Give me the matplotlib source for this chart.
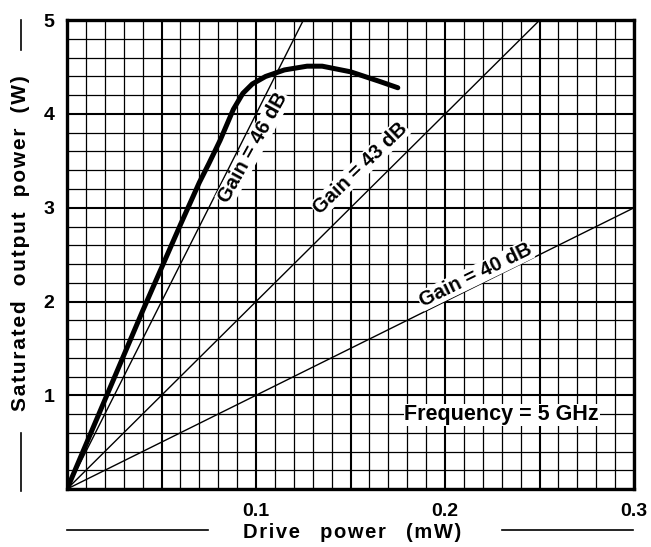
import numpy as np
import matplotlib
matplotlib.use("Agg")
import matplotlib.pyplot as plt
from matplotlib.lines import Line2D
from matplotlib.ticker import FuncFormatter

plt.rcParams['font.family'] = ['Liberation Sans', 'DejaVu Sans']
plt.rcParams['font.weight'] = 'bold'

# saturated output curve
drive = [0, 0.02, 0.04, 0.06, 0.07, 0.075, 0.081, 0.088, 0.093, 0.098,
         0.105, 0.115, 0.127, 0.135, 0.15, 0.165, 0.175]
sat_out = [0, 0.95, 1.9, 2.82, 3.27, 3.47, 3.72, 4.05, 4.22, 4.32,
           4.40, 4.47, 4.51, 4.51, 4.45, 4.35, 4.28]

# constant gain lines: end points (mW, W)
gains = ["40", "43", "46"]
gain_end_x = [0.3, 0.25, 0.125]
gain_end_y = [3.0, 5.0, 5.0]
# label positions and angles
gain_lab_x = [0.216, 0.155, 0.0985]
gain_lab_y = [2.28, 3.42, 3.64]
gain_lab_rot = [26, 44, 61]

fig = plt.figure(figsize=(6.51, 5.47), dpi=100)
ax = fig.add_axes([0.103, 0.106, 0.871, 0.857])

ax.set_xlim(0, 0.3)
ax.set_ylim(0, 5)
ax.set_xticks(np.arange(0, 0.3001, 0.05))
ax.set_xticks(np.arange(0, 0.3001, 0.01), minor=True)
ax.set_yticks(np.arange(0, 5.01, 1))
ax.set_yticks(np.arange(0, 5.01, 0.2), minor=True)
ax.xaxis.set_major_formatter(FuncFormatter(
    lambda v, p: f"{v:.1f}" if v > 0.01 and abs(v * 10 - round(v * 10)) < 1e-6 else ""))
ax.yaxis.set_major_formatter(FuncFormatter(lambda v, p: f"{v:.0f}" if v > 0 else ""))
ax.tick_params(which='both', length=0)
ax.tick_params(axis='x', pad=10, labelsize=14)
ax.tick_params(axis='y', pad=9, labelsize=14)

ax.set_axisbelow(True)
ax.grid(which='minor', color='k', lw=0.9)
ax.grid(which='major', color='k', lw=1.5)
for s in ax.spines.values():
    s.set_linewidth(2.4)

for g, ex, ey, lx, ly, rot in zip(gains, gain_end_x, gain_end_y,
                                  gain_lab_x, gain_lab_y, gain_lab_rot):
    ax.plot([0, ex], [0, ey], color='k', lw=1.0, zorder=3)
    ax.text(lx, ly, f"Gain = {g} dB", rotation=rot, ha='center', va='center',
            fontsize=14.5, fontweight='bold', zorder=4,
            bbox=dict(facecolor='white', edgecolor='none', pad=0.5))

ax.plot(drive, sat_out, color='k', lw=3.6, zorder=5, solid_capstyle='round')

ax.text(0.230, 0.79, "Frequency = 5 GHz", ha='center', va='center',
        fontsize=15.5, fontweight='bold', zorder=4,
        bbox=dict(facecolor='white', edgecolor='none', pad=0.5))

hs = "\u200a"
ylab = hs.join("Saturated output power (W)").replace(" ", "  ")
xlab = hs.join("Drive power (mW)").replace(" ", "   ")
fig.text(0.031, 0.556, ylab, rotation=90, ha='center', va='center',
         fontsize=15, fontweight='bold')
fig.text(0.541, 0.027, xlab, ha='center', va='center',
         fontsize=14.5, fontweight='bold')

for xs, ys in [([0.103, 0.3195], [0.031, 0.031]),
               ([0.771, 0.972], [0.031, 0.031]),
               ([0.032, 0.032], [0.963, 0.909]),
               ([0.032, 0.032], [0.208, 0.102])]:
    fig.add_artist(Line2D(xs, ys, transform=fig.transFigure, color='k', lw=1.2))

fig.savefig("out.png", dpi=100)
